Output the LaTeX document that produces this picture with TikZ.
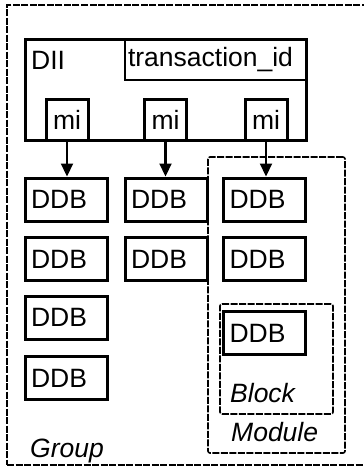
\documentclass[tikz,border=0pt]{standalone}
\usepackage{fontspec}
\setmainfont{Liberation Sans}
\usetikzlibrary{arrows.meta,positioning}

\begin{document}
\begin{tikzpicture}[x=1pt,y=-1pt,
font=\fontsize{26.5}{30}\selectfont,
box/.style={rectangle,draw,line width=3pt,inner sep=0pt},
ddb/.style={box,minimum height=43pt,text width=70pt,inner xsep=6pt,align=left},
mibox/.style={box,minimum width=42pt,minimum height=41pt},
frame/.style={draw,line width=1.6pt,dash pattern=on 7pt off 1.5pt,inner sep=0pt},
caption/.style={font=\fontsize{26.5}{30}\selectfont\itshape,anchor=base west,inner sep=0pt},
arr/.style={line width=2.2pt,-{Triangle[width=12pt,length=13pt]}},
]
\useasboundingbox (0,0) rectangle (364,474);
% Group frame (right side runs off the page)
\node (group) [frame,minimum width=363pt,minimum height=460pt] at (188.5,235) {};
\node (grouplbl) [caption] at (30,457) {Group};
% Module and Block frames
\node (module) [frame,rounded corners=2pt,minimum width=137pt,minimum height=296pt] at (276.5,305) {};
\node (modulelbl) [caption] at (231,441) {Module};
\node (block) [frame,rounded corners=2pt,minimum width=113pt,minimum height=110pt] at (276.5,359) {};
\node (blocklbl) [caption] at (230,402) {Block};
% DII
\node (dii) [box,minimum width=281pt,minimum height=101pt] at (165.5,89.5) {};
\node (diilbl) [anchor=base west,inner sep=0pt] at (31,69) {DII};
\node (tid) [box,line width=2.2pt,text width=175pt,inner xsep=3pt,align=left,minimum height=41pt] at (215.5,59.5) {transaction\_id};
\node (mi1) [mibox] at (67,119.5) {mi};
\node (mi2) [mibox] at (165.5,119.5) {mi};
\node (mi3) [mibox] at (266,119.5) {mi};
% DDBs
\node (ddb11) [ddb] at (66,199.5) {DDB};
\node (ddb12) [ddb] at (66,259) {DDB};
\node (ddb13) [ddb] at (66,317.5) {DDB};
\node (ddb14) [ddb] at (66,378) {DDB};
\node (ddb21) [ddb] at (166,199.5) {DDB};
\node (ddb22) [ddb] at (166,259) {DDB};
\node (ddb31) [ddb] at (264.5,199.5) {DDB};
\node (ddb32) [ddb] at (264.5,259) {DDB};
\node (ddb33) [ddb] at (264.5,333) {DDB};
% arrows
\draw[arr] (mi1.south) -- (mi1.south |- ddb11.north);
\draw[arr] (mi2.south) -- (mi2.south |- ddb21.north);
\draw[arr] (mi3.south) -- (mi3.south |- ddb31.north);
\end{tikzpicture}
\end{document}
